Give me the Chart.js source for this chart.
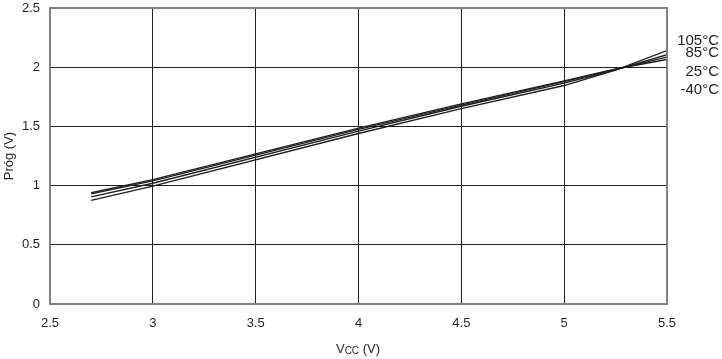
<!DOCTYPE html>
<html lang="pl">
<head>
    <meta charset="UTF-8">
    <title>Próg vs Vcc</title>
    <script src="https://cdn.jsdelivr.net/npm/chart.js@4.4.0/dist/chart.umd.min.js"></script>
    <style>
        body { margin: 0; background: #fff; font-family: "Liberation Sans", Arial, sans-serif; }
        #wrap { position: relative; width: 722px; height: 359px; }
        .lbl { position: absolute; font-size: 15px; color: #231f20; text-align: right; right: 3px; line-height: 15px; }
        #xt { position: absolute; left: 308px; width: 100px; top: 341px; text-align: center; font-size: 13px; color: #231f20; }
        #xt sub { font-size: 10px; vertical-align: -1px; }
    </style>
</head>
<body>
<div id="wrap">
    <canvas id="myChart" width="722" height="359"></canvas>
    <div class="lbl" style="top:32px">105°C</div>
    <div class="lbl" style="top:44px">85°C</div>
    <div class="lbl" style="top:63px">25°C</div>
    <div class="lbl" style="top:81px">-40°C</div>
    <div id="xt">V<sub>CC</sub> (V)</div>
</div>
<script>
    // napięcie zasilania (V)
    var vcc = [2.7, 3.0, 4.0, 4.5, 5.0, 5.25, 5.5];
    // próg dla każdej temperatury (V)
    var t105 = [0.875, 0.995, 1.44, 1.65, 1.845, 1.975, 2.14];
    var t85 = [0.905, 1.02, 1.46, 1.67, 1.865, 1.978, 2.105];
    var t25 = [0.93, 1.04, 1.475, 1.68, 1.878, 1.982, 2.085];
    var tm40 = [0.94, 1.05, 1.485, 1.69, 1.885, 1.985, 2.065];
    var series = [t105, t85, t25, tm40];
    var names = ['105°C', '85°C', '25°C', '-40°C'];

    var ds = series.map(function (s, i) {
        return {
            label: names[i],
            data: vcc.map(function (x, j) { return { x: x, y: s[j] }; }),
            borderColor: '#231f20',
            borderWidth: 1.4,
            pointRadius: 0,
            fill: false
        };
    });

    var txt = '#231f20';
    var fnt = { size: 13, family: 'Liberation Sans' };
    new Chart(document.getElementById('myChart'), {
        type: 'line',
        data: { datasets: ds },
        options: {
            responsive: false,
            animation: false,
            layout: { padding: { top: 0, right: 55, left: 0, bottom: 0 } },
            plugins: { legend: { display: false }, tooltip: { enabled: false } },
            scales: {
                x: {
                    type: 'linear', min: 2.5, max: 5.5,
                    afterFit: function (s) { s.height = 55; },
                    ticks: { stepSize: 0.5, color: txt, font: fnt, padding: 12, callback: function (v) { return String(v); } },
                    grid: { color: '#231f20', lineWidth: 1, drawTicks: false },
                    border: { color: '#808080', width: 2 }
                },
                y: {
                    min: 0, max: 2.5,
                    afterFit: function (s) { s.width = 50; s.paddingTop = 8; s.paddingBottom = 0; },
                    ticks: { stepSize: 0.5, color: txt, font: fnt, padding: 10, callback: function (v) { return String(v); } },
                    grid: { color: '#231f20', lineWidth: 1, drawTicks: false },
                    border: { color: '#808080', width: 2 },
                    title: { display: true, text: 'Próg (V)', color: txt, font: fnt, padding: { top: 2, bottom: 0 } }
                }
            }
        },
        plugins: [{
            id: 'frame',
            afterDraw: function (chart) {
                var a = chart.chartArea, c = chart.ctx;
                c.save();
                c.strokeStyle = '#808080';
                c.lineWidth = 2;
                c.strokeRect(a.left, a.top, a.right - a.left, a.bottom - a.top);
                c.restore();
            }
        }]
    });
</script>
</body>
</html>
